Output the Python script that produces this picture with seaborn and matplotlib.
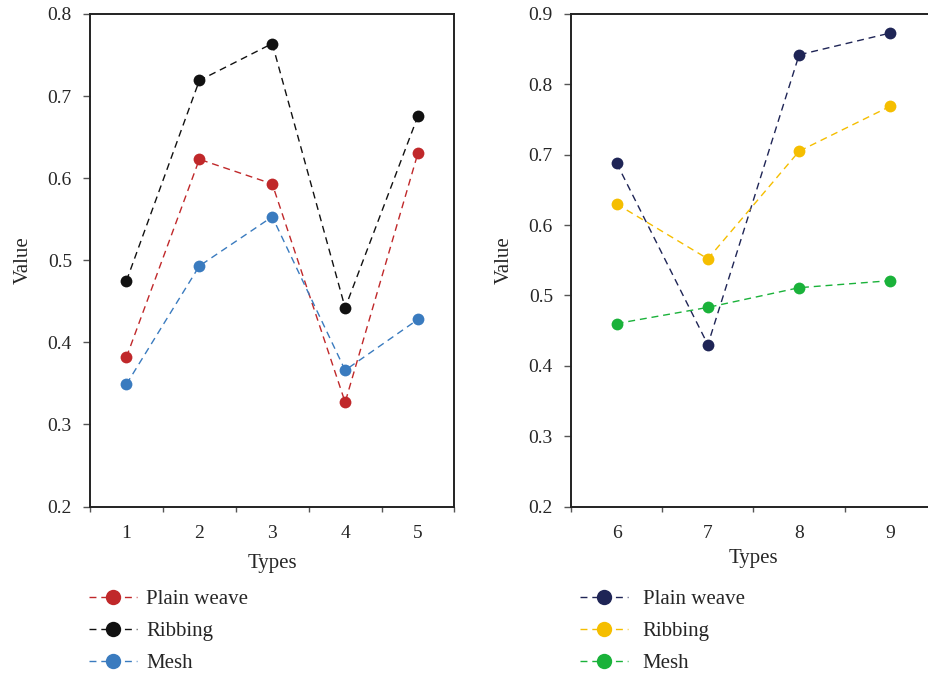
import pandas as pd
import seaborn as sns
import matplotlib.pyplot as plt

# values
types_left = [1, 2, 3, 4, 5]
plain_left = [0.382, 0.623, 0.593, 0.327, 0.631]
ribbing_left = [0.475, 0.719, 0.764, 0.442, 0.676]
mesh_left = [0.349, 0.493, 0.553, 0.366, 0.428]

types_right = [6, 7, 8, 9]
plain_right = [0.688, 0.430, 0.842, 0.873]
ribbing_right = [0.630, 0.552, 0.705, 0.769]
mesh_right = [0.460, 0.483, 0.511, 0.521]

series = ['Plain weave', 'Ribbing', 'Mesh']
colors_left = ['#C0282A', '#111111', '#3A7BBF']
colors_right = ['#1F2556', '#F5BE00', '#1AB23A']

sns.set_style('ticks')
plt.rcParams['font.family'] = ['Liberation Serif', 'DejaVu Serif']


def long_form(types, plain, ribbing, mesh):
    rows = []
    for name, vals in zip(series, [plain, ribbing, mesh]):
        for t, v in zip(types, vals):
            rows.append({'Types': t, 'Value': v, 'series': name})
    return pd.DataFrame(rows)


df_left = long_form(types_left, plain_left, ribbing_left, mesh_left)
df_right = long_form(types_right, plain_right, ribbing_right, mesh_right)

fig = plt.figure(figsize=(9.29, 6.74), dpi=100)
W, H = 929, 674
ax1 = fig.add_axes([90 / W, 1 - 506.5 / H, 364.5 / W, 492.5 / H])
ax2 = fig.add_axes([571 / W, 1 - 506.5 / H, 365 / W, 492.5 / H])


def draw(ax, df, types, colors, ylim, yticks, xpad):
    sns.lineplot(data=df, x='Types', y='Value', hue='series', hue_order=series,
                 palette=colors, marker='o', markersize=8.5, markeredgewidth=0,
                 linestyle=(0, (5, 3.5)), linewidth=1.0, legend=False, ax=ax)
    ax.set_xlim(types[0] - 0.5, types[-1] + 0.5)
    ax.set_xticks([t - 0.5 for t in types] + [types[-1] + 0.5])
    ax.set_xticklabels([])
    ax.set_xticks(types, minor=True)
    ax.set_xticklabels([str(t) for t in types], minor=True)
    ax.tick_params(axis='x', which='minor', length=0, pad=13, labelsize=14)
    ax.tick_params(axis='x', which='major', length=3.5, width=1, color='#555555')
    ax.set_ylim(*ylim)
    ax.set_yticks(yticks)
    ax.set_yticklabels([f'{v:.1f}' for v in yticks])
    ax.tick_params(axis='y', length=5, width=1, labelsize=14, pad=8, color='#555555')
    ax.set_xlabel('Types', fontsize=15, labelpad=xpad)
    ax.set_ylabel('Value', fontsize=15, labelpad=11)
    for s in ax.spines.values():
        s.set_linewidth(1.4)
        s.set_color('#222222')
    return ax.get_lines()[:3]


h1 = draw(ax1, df_left, types_left, colors_left, (0.2, 0.8),
          [0.2, 0.3, 0.4, 0.5, 0.6, 0.7, 0.8], 9)
h2 = draw(ax2, df_right, types_right, colors_right, (0.2, 0.9),
          [0.2, 0.3, 0.4, 0.5, 0.6, 0.7, 0.8, 0.9], 5)

leg_kw = dict(loc='upper left', frameon=False, fontsize=15, handlelength=2.3,
              labelspacing=0.6, markerscale=1.3)
fig.legend(h1, series, bbox_to_anchor=(70 / W, 1 - 571 / H),
           handletextpad=0.45, **leg_kw)
fig.legend(h2, series, bbox_to_anchor=(561 / W, 1 - 571 / H),
           handletextpad=0.72, **leg_kw)

fig.savefig('out.png', dpi=100)
